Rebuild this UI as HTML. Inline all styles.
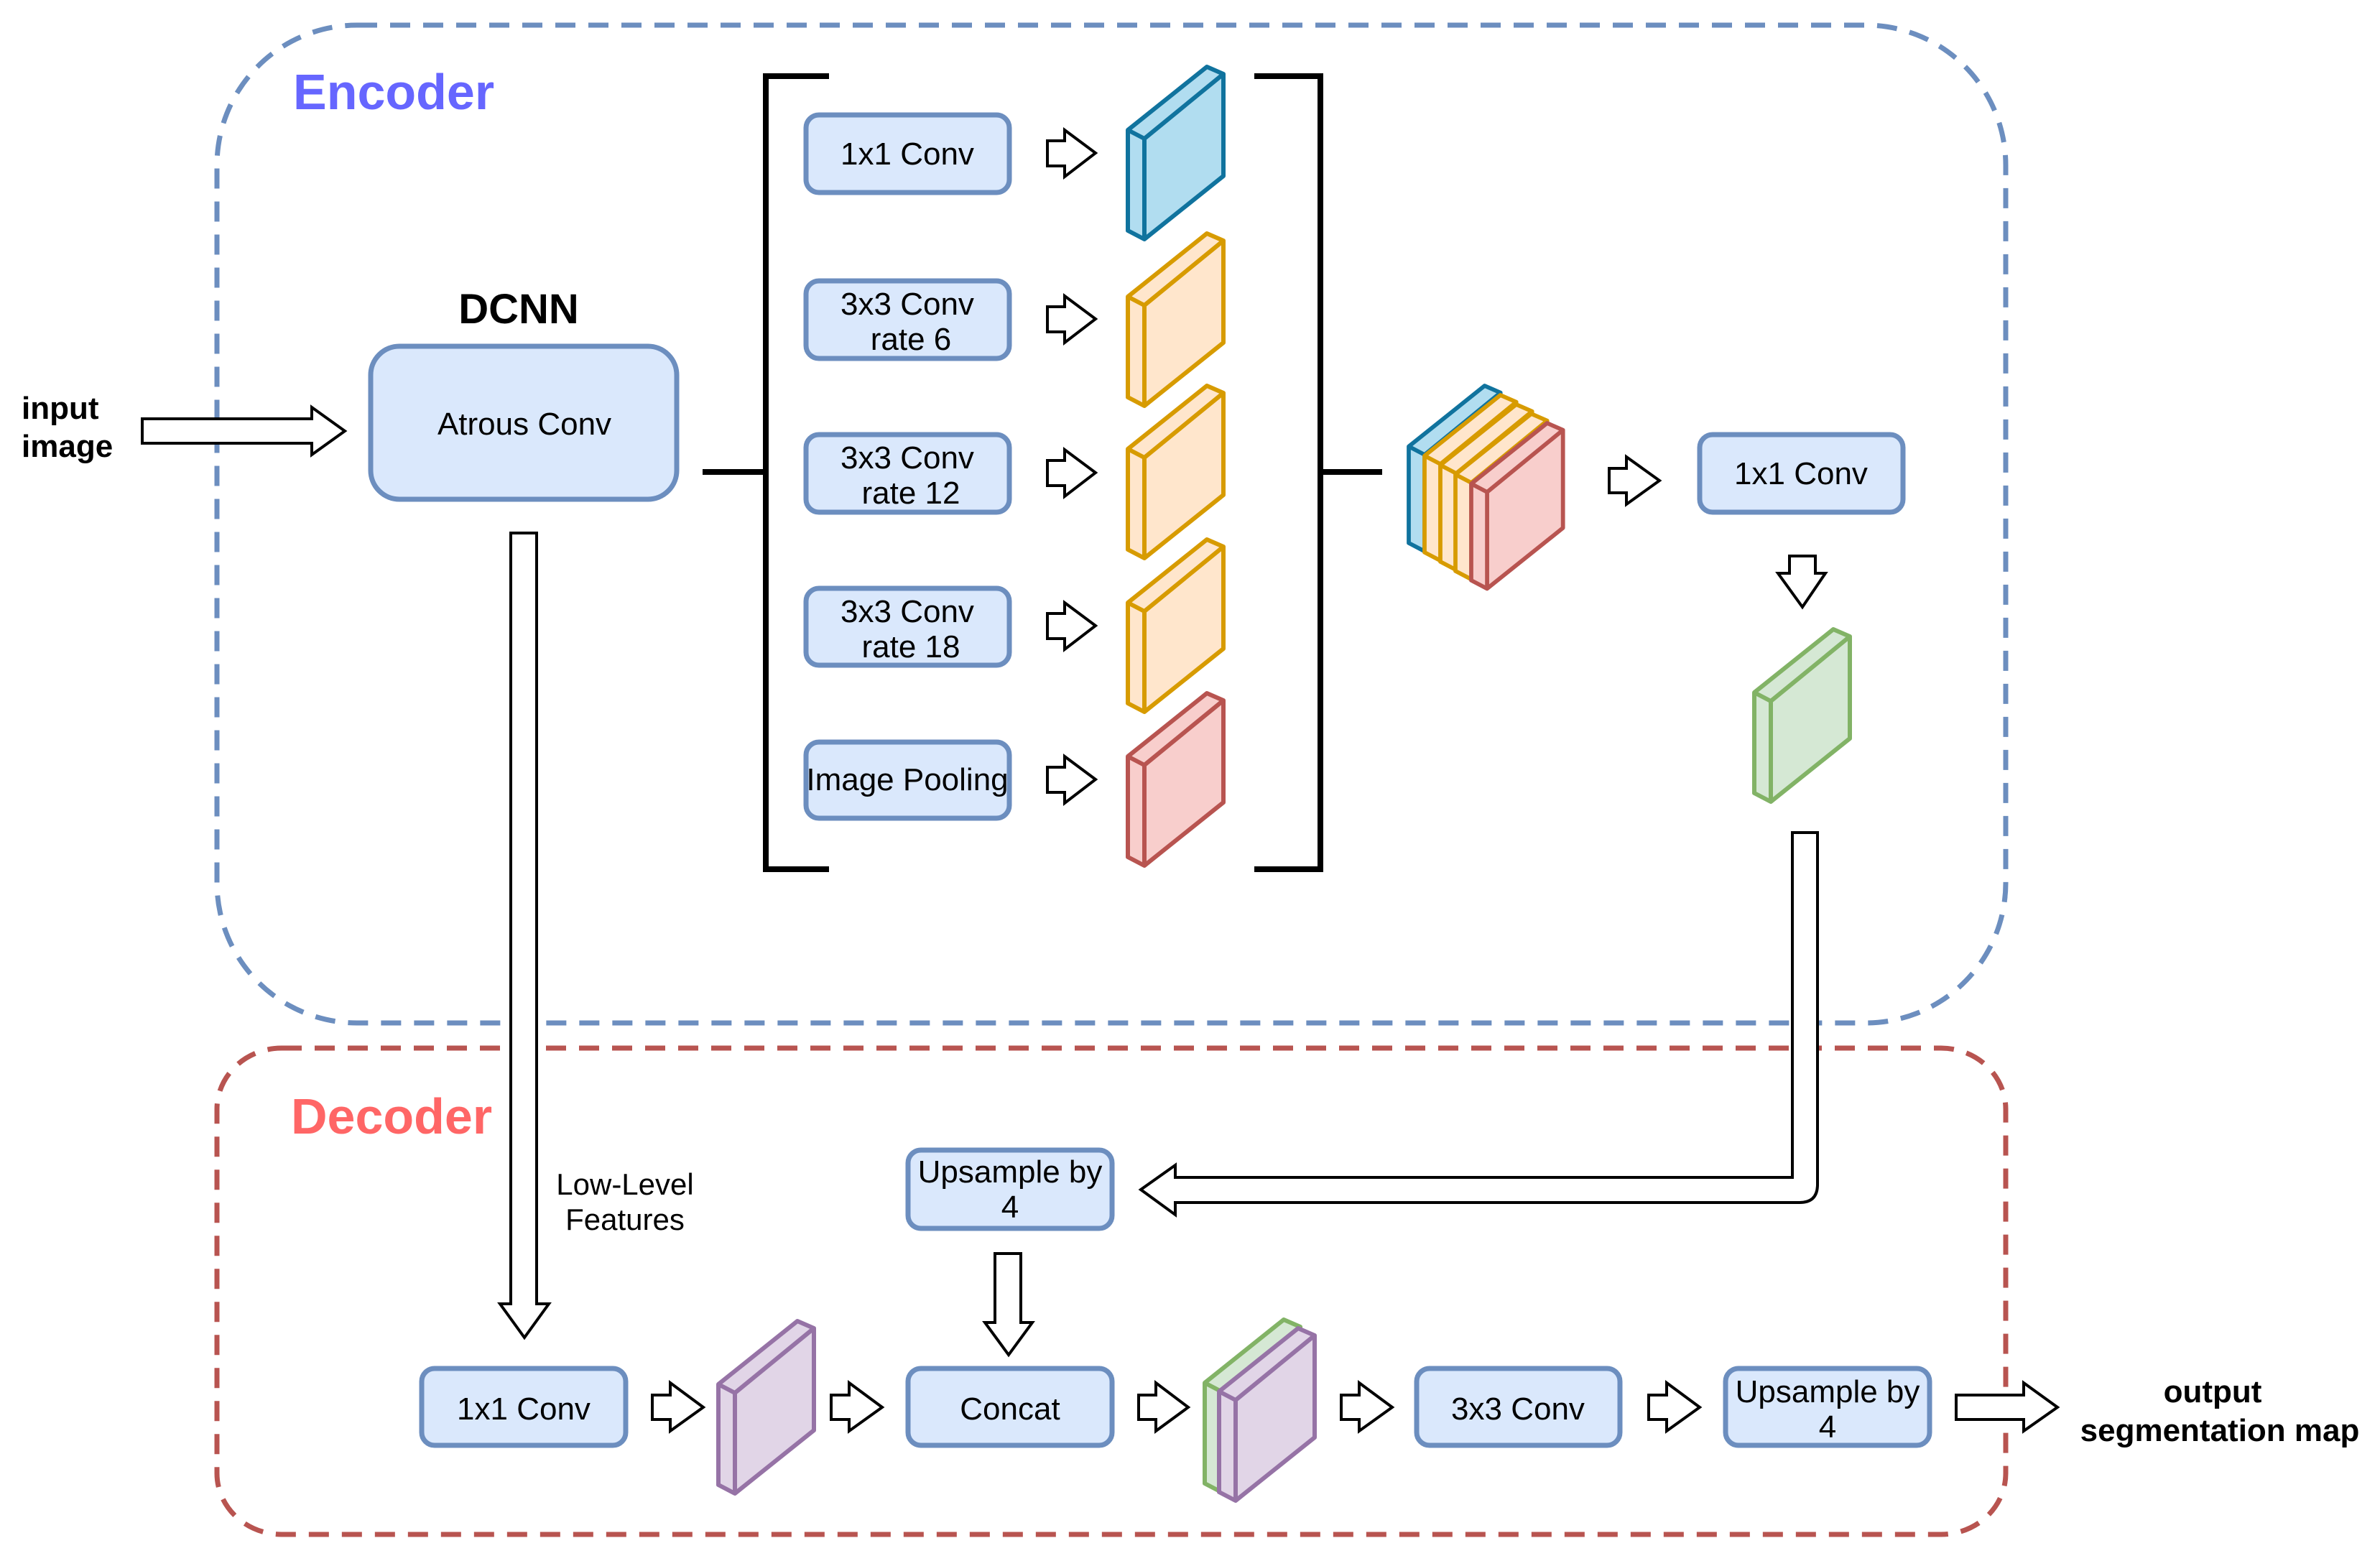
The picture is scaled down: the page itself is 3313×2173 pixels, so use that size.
<!DOCTYPE html>
<html><head><meta charset="utf-8"><style>
html,body{margin:0;padding:0;background:#fff;}
svg{display:block;}
text{font-family:"Liberation Sans",Arial,sans-serif;}
</style></head><body>
<svg width="3313" height="2173" viewBox="0 0 3313 2173" xmlns="http://www.w3.org/2000/svg">
<defs>
<g id="sl">
<path d="M0,88 L110,0 L133,10 L133,152 L23,240 L0,228 Z"/>
<path d="M0,88 L23,100 L133,10 M23,100 V240" fill="none"/>
</g>
</defs>
<rect width="3313" height="2173" fill="#fff"/>

<rect x="302" y="35" width="2490" height="1389" rx="195" ry="195" fill="none" stroke="#6c8ebf" stroke-width="7" stroke-dasharray="28 18"/>
<rect x="302" y="1459" width="2490" height="677" rx="90" ry="85" fill="none" stroke="#b85450" stroke-width="7" stroke-dasharray="28 18"/>

<text x="408" y="152" font-size="70" font-weight="bold" fill="#6666ff">Encoder</text>
<text x="405" y="1578" font-size="70" font-weight="bold" fill="#ff6666">Decoder</text>

<text x="30" y="583" font-size="44" font-weight="bold">input</text>
<text x="30" y="636" font-size="44" font-weight="bold">image</text>
<polygon points="198,583 434,583 434,567 480,600 434,633 434,617 198,617" fill="#fff" stroke="#000" stroke-width="4"/>

<text x="722" y="450" font-size="58" font-weight="bold" text-anchor="middle">DCNN</text>
<rect x="516" y="482" width="426" height="213" rx="40" fill="#dae8fc" stroke="#6c8ebf" stroke-width="7"/>
<text x="730" y="605" font-size="44" text-anchor="middle">Atrous Conv</text>

<path d="M978,657 H1066 M1154,106 H1066 V1210 H1154" fill="none" stroke="#000" stroke-width="8"/>
<path d="M1746,106 H1838 V1210 H1746 M1838,657 H1924" fill="none" stroke="#000" stroke-width="8"/>

<g fill="#dae8fc" stroke="#6c8ebf" stroke-width="7">
<rect x="1122" y="160" width="283" height="108" rx="18"/>
<rect x="1122" y="391" width="283" height="108" rx="18"/>
<rect x="1122" y="605" width="283" height="108" rx="18"/>
<rect x="1122" y="819" width="283" height="107" rx="18"/>
<rect x="1122" y="1033" width="283" height="106" rx="18"/>
</g>
<g font-size="44" text-anchor="middle">
<text x="1263" y="229">1x1 Conv</text>
<text x="1263" y="438">3x3 Conv</text><text x="1268" y="487">rate 6</text>
<text x="1263" y="652">3x3 Conv</text><text x="1268" y="701">rate 12</text>
<text x="1263" y="866">3x3 Conv</text><text x="1268" y="915">rate 18</text>
<text x="1263" y="1100">Image Pooling</text>
</g>

<g fill="#fff" stroke="#000" stroke-width="4">
<polygon points="1458,196 1482,196 1482,181 1525,213 1482,246 1482,231 1458,231"/>
<polygon points="1458,427 1482,427 1482,412 1525,444 1482,477 1482,462 1458,462"/>
<polygon points="1458,641 1482,641 1482,626 1525,658 1482,691 1482,676 1458,676"/>
<polygon points="1458,854 1482,854 1482,839 1525,871 1482,904 1482,889 1458,889"/>
<polygon points="1458,1068 1482,1068 1482,1053 1525,1085 1482,1118 1482,1103 1458,1103"/>

<polygon points="2240,652 2264,652 2264,636 2310,669 2264,702 2264,686 2240,686"/>
<polygon points="2491,774 2527,774 2527,798 2541,798 2509,845 2475,798 2491,798"/>

<polygon points="908,1942 933,1942 933,1925 979,1959 933,1992 933,1976 908,1976"/>
<polygon points="1157,1942 1182,1942 1182,1925 1228,1959 1182,1992 1182,1976 1157,1976"/>
<polygon points="1585,1942 1609,1942 1609,1925 1654,1959 1609,1992 1609,1976 1585,1976"/>
<polygon points="1867,1942 1892,1942 1892,1925 1938,1959 1892,1992 1892,1976 1867,1976"/>
<polygon points="2295,1942 2320,1942 2320,1925 2366,1959 2320,1992 2320,1976 2295,1976"/>
<polygon points="2723,1942 2817,1942 2817,1925 2864,1959 2817,1992 2817,1976 2723,1976"/>

<polygon points="1385,1745 1421,1745 1421,1841 1437,1841 1404,1886 1371,1841 1385,1841"/>
<polygon points="711,742 747,742 747,1815 764,1815 730,1862 696,1815 711,1815"/>
<path d="M2495,1159 H2530 V1649 Q2530,1674 2505,1674 H1636 V1691 L1588,1656 L1636,1622 V1639 H2495 Z"/>
</g>

<g stroke-width="6" stroke-linejoin="round">
<use href="#sl" transform="translate(1570,93)" fill="#b1ddf0" stroke="#10739e"/>
<use href="#sl" transform="translate(1570,325)" fill="#ffe6cc" stroke="#d79b00"/>
<use href="#sl" transform="translate(1570,537)" fill="#ffe6cc" stroke="#d79b00"/>
<use href="#sl" transform="translate(1570,751)" fill="#ffe6cc" stroke="#d79b00"/>
<use href="#sl" transform="translate(1570,965)" fill="#f8cecc" stroke="#b85450"/>

<use href="#sl" transform="translate(1961,537) scale(0.96)" fill="#b1ddf0" stroke="#10739e"/>
<use href="#sl" transform="translate(1983,550) scale(0.96)" fill="#ffe6cc" stroke="#d79b00"/>
<use href="#sl" transform="translate(2005,563) scale(0.96)" fill="#ffe6cc" stroke="#d79b00"/>
<use href="#sl" transform="translate(2026,576) scale(0.96)" fill="#ffe6cc" stroke="#d79b00"/>
<use href="#sl" transform="translate(2048,589) scale(0.96)" fill="#f8cecc" stroke="#b85450"/>

<use href="#sl" transform="translate(2442,876)" fill="#d5e8d4" stroke="#82b366"/>
<use href="#sl" transform="translate(1000,1839)" fill="#e1d5e7" stroke="#9673a6"/>
<use href="#sl" transform="translate(1677,1837)" fill="#d5e8d4" stroke="#82b366"/>
<use href="#sl" transform="translate(1697,1849)" fill="#e1d5e7" stroke="#9673a6"/>
</g>

<g fill="#dae8fc" stroke="#6c8ebf" stroke-width="7">
<rect x="2366" y="605" width="283" height="108" rx="18"/>
<rect x="1264" y="1601" width="284" height="109" rx="18"/>
<rect x="587" y="1905" width="284" height="107" rx="18"/>
<rect x="1264" y="1905" width="284" height="107" rx="18"/>
<rect x="1972" y="1905" width="283" height="107" rx="18"/>
<rect x="2402" y="1905" width="284" height="107" rx="18"/>
</g>
<g font-size="44" text-anchor="middle">
<text x="2507" y="674">1x1 Conv</text>
<text x="1406" y="1646">Upsample by</text><text x="1406" y="1695">4</text>
<text x="729" y="1976">1x1 Conv</text>
<text x="1406" y="1976">Concat</text>
<text x="2113" y="1976">3x3 Conv</text>
<text x="2544" y="1952">Upsample by</text><text x="2544" y="2001">4</text>
<text x="870" y="1663" font-size="42">Low-Level</text>
<text x="870" y="1712" font-size="42">Features</text>
</g>
<text x="3080" y="1952" font-size="44" font-weight="bold" text-anchor="middle">output</text>
<text x="3090" y="2006" font-size="44" font-weight="bold" text-anchor="middle">segmentation map</text>
</svg>
</body></html>
